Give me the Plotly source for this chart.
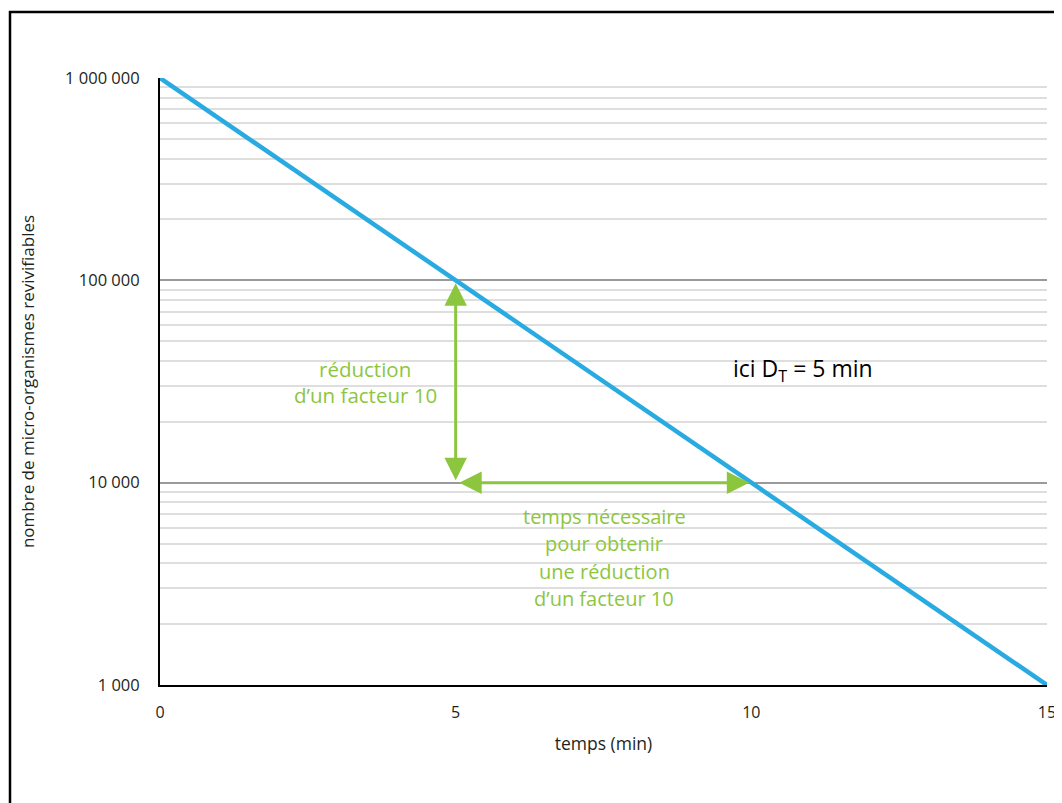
import numpy as np
import plotly.graph_objects as go

# Data
temps = [0, 5, 10, 15]
population = [1_000_000, 100_000, 10_000, 1_000]
y_tickvals = [1_000, 10_000, 100_000, 1_000_000]
y_ticktext = ["1 000", "10 000", "100 000", "1 000 000"]
x_tickvals = [0, 5, 10, 15]

# Layout constants (screen pixels); the page body adds an 8px offset
OFF = 8
W, H = 1062, 803
L, R, T, B = 160, 15, 78, 118
plot_w = W - L - R
plot_h = H - T - B
decade_px = plot_h / 3.0

def py2log(py):
    return 3 + (H - B - py) / decade_px

def px2x(px):
    return (px - L) / plot_w * 15

GREEN = "#8cc63f"
BLUE = "#29abe2"
FONT = "Open Sans"
TXT = "#231f20"

fig = go.Figure()
fig.add_trace(go.Scatter(
    x=temps, y=population, mode="lines",
    line=dict(color=BLUE, width=4.5), showlegend=False, hoverinfo="skip",
))

fig.update_layout(
    width=W - OFF, height=H - OFF,
    margin=dict(l=L - OFF, r=R, t=T - OFF, b=B, autoexpand=False),
    paper_bgcolor="white", plot_bgcolor="white",
    font=dict(family=FONT, color=TXT, size=14),
    xaxis=dict(
        range=[0, 15], tickvals=x_tickvals, ticktext=[str(v) for v in x_tickvals],
        showgrid=False, zeroline=False, showline=True, linecolor="black", linewidth=2,
        ticks="outside", ticklen=12, tickcolor="rgba(0,0,0,0)", automargin=False,
        tickfont=dict(size=16, family=FONT, color=TXT),
        title=dict(text="temps (min)", font=dict(size=17.5, family=FONT, color=TXT), standoff=16),
    ),
    yaxis=dict(
        type="log", range=[3, 6], tickvals=y_tickvals, ticktext=y_ticktext,
        showgrid=True, gridcolor="#9a9a9a", gridwidth=1.5, automargin=False,
        zeroline=False, showline=True, linecolor="black", linewidth=2,
        ticks="outside", ticklen=15, tickcolor="rgba(0,0,0,0)",
        tickfont=dict(size=16.5, family=FONT, color=TXT),
        minor=dict(showgrid=True, gridcolor="#dedede", gridwidth=1.5, dtick="D1"),
        title=dict(text="nombre de micro-organismes revivifiables",
                   font=dict(size=17, family=FONT, color=TXT), standoff=26),
    ),
)

# outer frame
fig.add_shape(type="rect", xref="paper", yref="paper",
              x0=(10 - L) / plot_w, x1=1.2,
              y0=-0.5, y1=(H - B - 12) / plot_h,
              line=dict(color="black", width=2.5), layer="below")

# arrows (log-axis annotation coords use log10)
ly = np.log10(population)
arrow_style = dict(xref="x", yref="y", axref="x", ayref="y", text="", showarrow=True,
                   arrowhead=2, startarrowhead=2, arrowside="end+start",
                   arrowsize=1.5, startarrowsize=1.5, arrowwidth=3, arrowcolor=GREEN)
fig.add_annotation(x=temps[1], y=ly[1], ax=temps[1], ay=ly[2],
                   standoff=3, startstandoff=1, **arrow_style)
fig.add_annotation(x=temps[2], y=ly[2], ax=temps[1], ay=ly[2],
                   standoff=2, startstandoff=2, **arrow_style)

for txt, py in [("réduction", 369), ("d’un facteur 10", 395)]:
    fig.add_annotation(x=px2x(365), y=py2log(py), xref="x", yref="y", text=txt,
                       showarrow=False, font=dict(size=20.5, family=FONT, color=GREEN))
for txt, py in [("temps nécessaire", 516), ("pour obtenir", 543),
                ("une réduction", 571), ("d’un facteur 10", 598)]:
    fig.add_annotation(x=px2x(604), y=py2log(py), xref="x", yref="y", text=txt,
                       showarrow=False, font=dict(size=20, family=FONT, color=GREEN))

fig.add_annotation(x=px2x(803), y=py2log(369), xref="x", yref="y",
                   text="ici D<sub>T</sub> = 5 min", showarrow=False,
                   font=dict(size=23, family=FONT, color="black"))

fig.write_html("out.html")
